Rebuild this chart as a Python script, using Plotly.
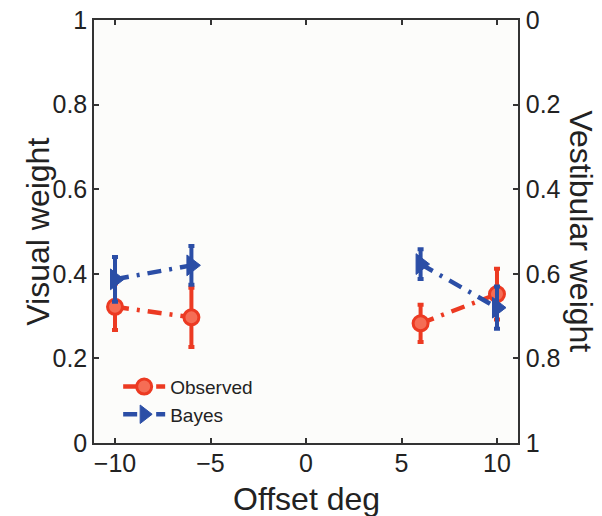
import plotly.graph_objects as go

offsets = [-10, -6, 6, 10]
observed = [0.322, 0.297, 0.283, 0.352]
observed_err = [0.055, 0.07, 0.044, 0.06]
bayes = [0.387, 0.42, 0.423, 0.32]
bayes_err = [0.053, 0.046, 0.035, 0.05]

x_ticks = [-10, -5, 0, 5, 10]
y_ticks = [0, 0.2, 0.4, 0.6, 0.8, 1]
y_tick_text = ["0", "0.2", "0.4", "0.6", "0.8", "1"]
y2_tick_text = ["0", "0.2", "0.4", "0.6", "0.8", "1"]

red = "#ec3a22"
blue = "#2b4ea6"
dash = "14px,8px,3px,8px"
FONT = "Liberation Sans, Arial, sans-serif"


def with_gap(xs, *cols):
    """Insert a None between negative and positive offsets so the two pairs are not joined."""
    out_x, outs = [], [[] for _ in cols]
    for i, x in enumerate(xs):
        if i > 0 and xs[i - 1] < 0 < x:
            out_x.append(None)
            for o in outs:
                o.append(None)
        out_x.append(x)
        for o, c in zip(outs, cols):
            o.append(c[i])
    return out_x, outs


ox, (oy, oe) = with_gap(offsets, observed, observed_err)
bx, (by, be) = with_gap(offsets, bayes, bayes_err)

fig = go.Figure()
fig.add_trace(go.Scatter(
    x=ox, y=oy, name="Observed", mode="lines+markers", connectgaps=False,
    line=dict(color=red, width=4.5, dash=dash),
    marker=dict(symbol="circle", size=15, color="#f56d55",
                line=dict(color=red, width=3)),
    error_y=dict(type="data", array=oe, color=red, thickness=4, width=3),
))
fig.add_trace(go.Scatter(
    x=bx, y=by, name="Bayes", mode="lines+markers", connectgaps=False,
    line=dict(color=blue, width=4.5, dash=dash),
    marker=dict(symbol="triangle-right", size=18, color=blue,
                line=dict(color=blue, width=1)),
    error_y=dict(type="data", array=be, color=blue, thickness=4, width=3),
))
# invisible trace to activate right axis
fig.add_trace(go.Scatter(x=[0], y=[0], yaxis="y2", showlegend=False,
                         mode="markers", marker=dict(opacity=0), hoverinfo="skip"))

axis_common = dict(
    showgrid=False, zeroline=False, showline=True, linecolor="#333",
    linewidth=1.5, ticks="inside", ticklen=5, tickcolor="#333", tickwidth=1.5,
    tickfont=dict(family=FONT, size=25, color="#222"), automargin=False,
)

fig.update_layout(
    width=602, height=516,
    margin=dict(l=94, r=84, t=20, b=73),
    paper_bgcolor="white", plot_bgcolor="#fcfcfa",
    font=dict(family=FONT, color="#222"),
    xaxis=dict(range=[-11.1, 11.1], tickvals=x_ticks, mirror="ticks",
               ticklabelstandoff=-3, **axis_common),
    yaxis=dict(range=[0, 1], tickvals=y_ticks, ticktext=y_tick_text,
               ticklabelstandoff=0, **axis_common),
    yaxis2=dict(range=[1, 0], tickvals=y_ticks, ticktext=y2_tick_text,
                overlaying="y", side="right", ticklabelstandoff=1, **axis_common),
    legend=dict(x=0.057, y=0.178, xanchor="left", yanchor="top",
                bgcolor="rgba(0,0,0,0)", font=dict(family=FONT, size=19, color="#222"),
                tracegroupgap=0, itemwidth=42),
    showlegend=True,
    annotations=[
        dict(text="Offset deg", xref="paper", yref="paper", x=0.5, y=-0.132,
             xanchor="center", yanchor="middle", showarrow=False,
             font=dict(family=FONT, size=32, color="#222")),
        dict(text="Visual weight", xref="paper", yref="paper", x=-0.134, y=0.5,
             xanchor="center", yanchor="middle", showarrow=False, textangle=-90,
             font=dict(family=FONT, size=32, color="#222")),
        dict(text="Vestibular weight", xref="paper", yref="paper", x=1.149, y=0.5,
             xanchor="center", yanchor="middle", showarrow=False, textangle=90,
             font=dict(family=FONT, size=32, color="#222")),
    ],
)

fig.write_html("out.html", config={"displayModeBar": False},
               post_script="document.body.style.margin='0';")
